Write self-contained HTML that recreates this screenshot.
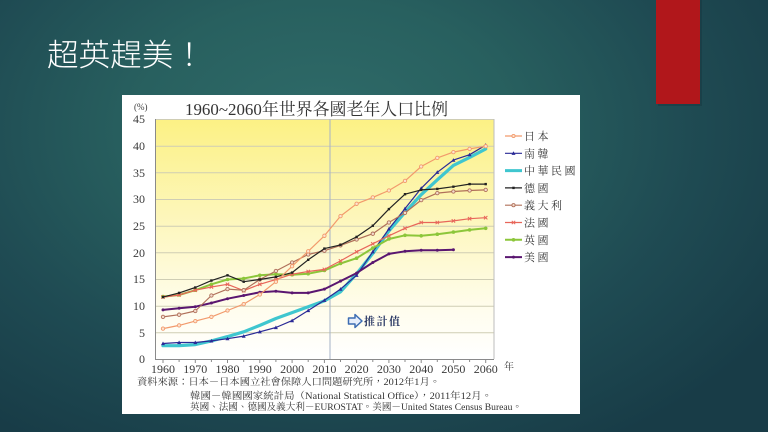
<!DOCTYPE html>
<html>
<head>
<meta charset="utf-8">
<style>
html,body{margin:0;padding:0;}
body{width:768px;height:432px;overflow:hidden;position:relative;
background:radial-gradient(ellipse 70% 85% at 42% 30%, #2f6b69 0%, #28605f 35%, #1f4b53 68%, #183c47 100%);}
svg{position:absolute;left:0;top:0;}
</style>
</head>
<body>
<svg width="768" height="432" viewBox="0 0 768 432" xmlns="http://www.w3.org/2000/svg">
<defs>
<linearGradient id="plotbg" x1="0" y1="0" x2="0" y2="1">
<stop offset="0" stop-color="#fcf184"/>
<stop offset="0.45" stop-color="#fdf7c0"/>
<stop offset="0.8" stop-color="#fffdee"/>
<stop offset="1" stop-color="#ffffff"/>
</linearGradient>
<marker id="mJ" markerUnits="userSpaceOnUse" markerWidth="6" markerHeight="6" refX="3" refY="3"><circle cx="3" cy="3" r="1.7" fill="#fde4d0" stroke="#f29a6c" stroke-width="0.9"/></marker>
<marker id="mK" markerUnits="userSpaceOnUse" markerWidth="6" markerHeight="6" refX="3" refY="3"><path d="M3 1 L5 4.6 L1 4.6 Z" fill="#2a2a96"/></marker>
<marker id="mG" markerUnits="userSpaceOnUse" markerWidth="6" markerHeight="6" refX="3" refY="3"><rect x="1.8" y="1.8" width="2.4" height="2.4" fill="#222"/></marker>
<marker id="mI" markerUnits="userSpaceOnUse" markerWidth="6" markerHeight="6" refX="3" refY="3"><circle cx="3" cy="3" r="1.7" fill="#f3dccd" stroke="#b0705a" stroke-width="0.9"/></marker>
<marker id="mF" markerUnits="userSpaceOnUse" markerWidth="6" markerHeight="6" refX="3" refY="3"><path d="M1.3 1.3 L4.7 4.7 M4.7 1.3 L1.3 4.7" stroke="#e8665a" stroke-width="1"/></marker>
<marker id="mU" markerUnits="userSpaceOnUse" markerWidth="6" markerHeight="6" refX="3" refY="3"><circle cx="3" cy="3" r="1.8" fill="#8cc63a"/></marker>
<marker id="mA" markerUnits="userSpaceOnUse" markerWidth="6" markerHeight="6" refX="3" refY="3"><circle cx="3" cy="3" r="1.5" fill="#5a1670"/></marker>
</defs>

<!-- slide title -->
<text x="47" y="66" font-family="'Liberation Sans','Noto Sans CJK TC',sans-serif" font-size="31" font-weight="300" fill="#ffffff" textLength="158" lengthAdjust="spacingAndGlyphs">超英趕美！</text>

<!-- red accent -->
<rect x="658" y="0" width="44" height="106" fill="#15303a" opacity="0.35"/>
<rect x="656" y="0" width="44" height="104" fill="#b1171b"/>

<!-- chart image -->
<rect x="122" y="95" width="458" height="319" fill="#ffffff"/>

<!-- plot background -->
<rect x="155" y="119" width="339" height="240" fill="url(#plotbg)"/>

<!-- gridlines -->
<g stroke="#cfcdb4" stroke-width="1">
<line x1="155" y1="119.5" x2="494" y2="119.5"/>
<line x1="155" y1="146.2" x2="494" y2="146.2"/>
<line x1="155" y1="172.8" x2="494" y2="172.8"/>
<line x1="155" y1="199.5" x2="494" y2="199.5"/>
<line x1="155" y1="226.2" x2="494" y2="226.2"/>
<line x1="155" y1="252.8" x2="494" y2="252.8"/>
<line x1="155" y1="279.5" x2="494" y2="279.5"/>
<line x1="155" y1="306.2" x2="494" y2="306.2"/>
<line x1="155" y1="332.8" x2="494" y2="332.8"/>
</g>
<line x1="494" y1="119" x2="494" y2="359" stroke="#bdbdbd" stroke-width="1"/>
<line x1="330" y1="119" x2="330" y2="359" stroke="#a6b2c6" stroke-width="1"/>

<!-- axes -->
<line x1="155.5" y1="119" x2="155.5" y2="359" stroke="#8a8a8a" stroke-width="1"/>
<line x1="155" y1="359.5" x2="494" y2="359.5" stroke="#8a8a8a" stroke-width="1"/>
<g stroke="#8a8a8a" stroke-width="1">
<line x1="163" y1="359" x2="163" y2="363"/><line x1="179.1" y1="359" x2="179.1" y2="362"/>
<line x1="195.3" y1="359" x2="195.3" y2="363"/><line x1="211.4" y1="359" x2="211.4" y2="362"/>
<line x1="227.5" y1="359" x2="227.5" y2="363"/><line x1="243.7" y1="359" x2="243.7" y2="362"/>
<line x1="259.8" y1="359" x2="259.8" y2="363"/><line x1="275.9" y1="359" x2="275.9" y2="362"/>
<line x1="292.1" y1="359" x2="292.1" y2="363"/><line x1="308.2" y1="359" x2="308.2" y2="362"/>
<line x1="324.4" y1="359" x2="324.4" y2="363"/><line x1="340.5" y1="359" x2="340.5" y2="362"/>
<line x1="356.6" y1="359" x2="356.6" y2="363"/><line x1="372.8" y1="359" x2="372.8" y2="362"/>
<line x1="388.9" y1="359" x2="388.9" y2="363"/><line x1="405" y1="359" x2="405" y2="362"/>
<line x1="421.2" y1="359" x2="421.2" y2="363"/><line x1="437.3" y1="359" x2="437.3" y2="362"/>
<line x1="453.4" y1="359" x2="453.4" y2="363"/><line x1="469.6" y1="359" x2="469.6" y2="362"/>
<line x1="485.7" y1="359" x2="485.7" y2="363"/>
</g>

<!-- y labels -->
<g font-family="'Liberation Serif',serif" font-size="12" fill="#3a3a3a" text-anchor="end">
<text x="145" y="123">45</text>
<text x="145" y="150">40</text>
<text x="145" y="177">35</text>
<text x="145" y="203">30</text>
<text x="145" y="230">25</text>
<text x="145" y="257">20</text>
<text x="145" y="283">15</text>
<text x="145" y="310">10</text>
<text x="145" y="337">5</text>
<text x="145" y="363">0</text>
</g>
<text x="134" y="110" font-family="'Liberation Serif',serif" font-size="9" fill="#3a3a3a">(%)</text>

<!-- x labels -->
<g font-family="'Liberation Serif',serif" font-size="12" fill="#3a3a3a" text-anchor="middle">
<text x="163" y="373">1960</text>
<text x="195.3" y="373">1970</text>
<text x="227.5" y="373">1980</text>
<text x="259.8" y="373">1990</text>
<text x="292.1" y="373">2000</text>
<text x="324.4" y="373">2010</text>
<text x="356.6" y="373">2020</text>
<text x="388.9" y="373">2030</text>
<text x="421.2" y="373">2040</text>
<text x="453.4" y="373">2050</text>
<text x="485.7" y="373">2060</text>
</g>
<text x="504" y="370" font-family="'Liberation Serif','Noto Serif CJK TC',serif" font-size="10" fill="#3a3a3a">年</text>

<!-- chart title -->
<text x="185" y="115" font-family="'Liberation Serif','Noto Serif CJK TC',serif" font-size="17" fill="#333" textLength="263" lengthAdjust="spacingAndGlyphs">1960~2060年世界各國老年人口比例</text>

<!-- series -->
<g fill="none" stroke-linejoin="round" stroke-linecap="round">
<polyline stroke="#3fc6cf" stroke-width="3.2" points="163,345.7 179.1,345.7 195.3,344.6 211.4,340.9 227.5,336.6 243.7,331.8 259.8,325.4 275.9,318.5 292.1,312.6 308.2,306.7 324.4,300.9 340.5,291.8 356.6,273.7 372.8,253.4 388.9,231 405,212.3 421.2,194.7 437.3,179.8 453.4,165.4 469.6,157.4 485.7,148.9"/>
<polyline stroke="#2a2a96" stroke-width="1.2" marker-start="url(#mK)" marker-mid="url(#mK)" marker-end="url(#mK)" points="163,343.5 179.1,342.5 195.3,342.5 211.4,340.9 227.5,338.7 243.7,336.1 259.8,331.8 275.9,327.5 292.1,320.6 308.2,310.5 324.4,300.3 340.5,289.1 356.6,275.3 372.8,251.8 388.9,228.9 405,208.6 421.2,188.3 437.3,172.3 453.4,160.1 469.6,154.7 485.7,145.1"/>
<polyline stroke="#5a1670" stroke-width="2" marker-start="url(#mA)" marker-mid="url(#mA)" marker-end="url(#mA)" points="163,309.9 179.1,308.3 195.3,306.7 211.4,303 227.5,298.7 243.7,295.5 259.8,292.3 275.9,291.3 292.1,292.9 308.2,292.9 324.4,289.1 340.5,281.1 356.6,273.1 372.8,262.5 388.9,253.9 405,251.3 421.2,250.2 437.3,250.2 453.4,249.7"/>
<polyline stroke="#8cc63a" stroke-width="2" marker-start="url(#mU)" marker-mid="url(#mU)" marker-end="url(#mU)" points="163,296.6 179.1,295 195.3,290.2 211.4,284.3 227.5,279.5 243.7,278.5 259.8,275.3 275.9,274.2 292.1,274.7 308.2,273.7 324.4,270.5 340.5,263.5 356.6,258.2 372.8,248.1 388.9,239 405,235.3 421.2,235.8 437.3,234.2 453.4,232.1 469.6,229.9 485.7,228.3"/>
<polyline stroke="#e8665a" stroke-width="1.2" marker-start="url(#mF)" marker-mid="url(#mF)" marker-end="url(#mF)" points="163,297.1 179.1,295 195.3,290.2 211.4,287 227.5,284.3 243.7,290.7 259.8,284.3 275.9,279.5 292.1,274.2 308.2,271.5 324.4,269.4 340.5,260.9 356.6,251.8 372.8,243.8 388.9,235.8 405,228.3 421.2,222.5 437.3,222.5 453.4,220.9 469.6,218.7 485.7,217.7"/>
<polyline stroke="#b0705a" stroke-width="1.2" marker-start="url(#mI)" marker-mid="url(#mI)" marker-end="url(#mI)" points="163,316.9 179.1,314.7 195.3,311 211.4,295.5 227.5,289.1 243.7,290.2 259.8,279.5 275.9,271 292.1,262.5 308.2,254.5 324.4,250.7 340.5,245.4 356.6,239.5 372.8,233.7 388.9,222.5 405,212.9 421.2,200.1 437.3,193.1 453.4,191.5 469.6,190.5 485.7,189.9"/>
<polyline stroke="#222222" stroke-width="1.2" marker-start="url(#mG)" marker-mid="url(#mG)" marker-end="url(#mG)" points="163,297.1 179.1,292.9 195.3,287.5 211.4,280.6 227.5,275.3 243.7,281.7 259.8,279.5 275.9,276.9 292.1,272.6 308.2,259.8 324.4,248.6 340.5,244.9 356.6,236.9 372.8,225.7 388.9,209.1 405,194.2 421.2,189.9 437.3,188.9 453.4,186.7 469.6,184.1 485.7,184.1"/>
<polyline stroke="#f29a6c" stroke-width="1.2" marker-start="url(#mJ)" marker-mid="url(#mJ)" marker-end="url(#mJ)" points="163,328.6 179.1,325.4 195.3,321.1 211.4,316.9 227.5,310.5 243.7,304.1 259.8,294.5 275.9,281.7 292.1,266.2 308.2,251.3 324.4,235.8 340.5,216.1 356.6,203.8 372.8,197.4 388.9,190.5 405,180.9 421.2,166.5 437.3,157.9 453.4,152.1 469.6,148.9 485.7,146.2"/>
</g>

<!-- projection label -->
<path d="M348.5 318 L355 318 L355 314.5 L362 321 L355 327.5 L355 324 L348.5 324 Z" fill="#e6eefb" stroke="#3d6db3" stroke-width="1.5" stroke-linejoin="round"/>
<text x="364" y="325" font-family="'Liberation Serif','Noto Serif CJK TC',serif" font-size="11" font-weight="bold" fill="#2c3a66" letter-spacing="1.5">推計值</text>

<!-- legend -->
<g fill="none">
<line x1="505" y1="136" x2="522" y2="136" stroke="#f29a6c" stroke-width="1.2"/><circle cx="513.5" cy="136" r="1.6" fill="#fde4d0" stroke="#f29a6c" stroke-width="0.9"/>
<line x1="505" y1="153.3" x2="522" y2="153.3" stroke="#2a2a96" stroke-width="1.2"/><path d="M513.5 151.3 L515.5 154.9 L511.5 154.9 Z" fill="#2a2a96"/>
<line x1="505" y1="170.6" x2="522" y2="170.6" stroke="#3fc6cf" stroke-width="3"/>
<line x1="505" y1="187.9" x2="522" y2="187.9" stroke="#222" stroke-width="1.2"/><rect x="512.3" y="186.7" width="2.4" height="2.4" fill="#222"/>
<line x1="505" y1="205.2" x2="522" y2="205.2" stroke="#b0705a" stroke-width="1.2"/><circle cx="513.5" cy="205.2" r="1.6" fill="#f3dccd" stroke="#b0705a" stroke-width="0.9"/>
<line x1="505" y1="222.5" x2="522" y2="222.5" stroke="#e8665a" stroke-width="1.2"/><path d="M511.8 220.8 L515.2 224.2 M515.2 220.8 L511.8 224.2" stroke="#e8665a" stroke-width="1"/>
<line x1="505" y1="239.8" x2="522" y2="239.8" stroke="#8cc63a" stroke-width="2"/><circle cx="513.5" cy="239.8" r="1.8" fill="#8cc63a"/>
<line x1="505" y1="257.1" x2="522" y2="257.1" stroke="#5a1670" stroke-width="2"/><circle cx="513.5" cy="257.1" r="1.5" fill="#5a1670"/>
</g>
<g font-family="'Liberation Serif','Noto Serif CJK TC',serif" font-size="11" fill="#3a3a3a" letter-spacing="2.5">
<text x="524" y="140">日本</text>
<text x="524" y="157.3">南韓</text>
<text x="524" y="174.6">中華民國</text>
<text x="524" y="191.9">德國</text>
<text x="524" y="209.2">義大利</text>
<text x="524" y="226.5">法國</text>
<text x="524" y="243.8">英國</text>
<text x="524" y="261.1">美國</text>
</g>

<!-- source notes -->
<g font-family="'Liberation Serif','Noto Serif CJK TC',serif" font-size="9.5" fill="#333">
<text x="137" y="385" textLength="303" lengthAdjust="spacingAndGlyphs">資料來源：日本－日本國立社會保障人口問題研究所，2012年1月。</text>
<text x="190" y="399" textLength="302" lengthAdjust="spacingAndGlyphs">韓國－韓國國家統計局（National Statistical Office），2011年12月。</text>
<text x="190" y="410" textLength="332" lengthAdjust="spacingAndGlyphs">英國、法國、德國及義大利－EUROSTAT。美國－United States Census Bureau。</text>
</g>
</svg>
</body>
</html>
